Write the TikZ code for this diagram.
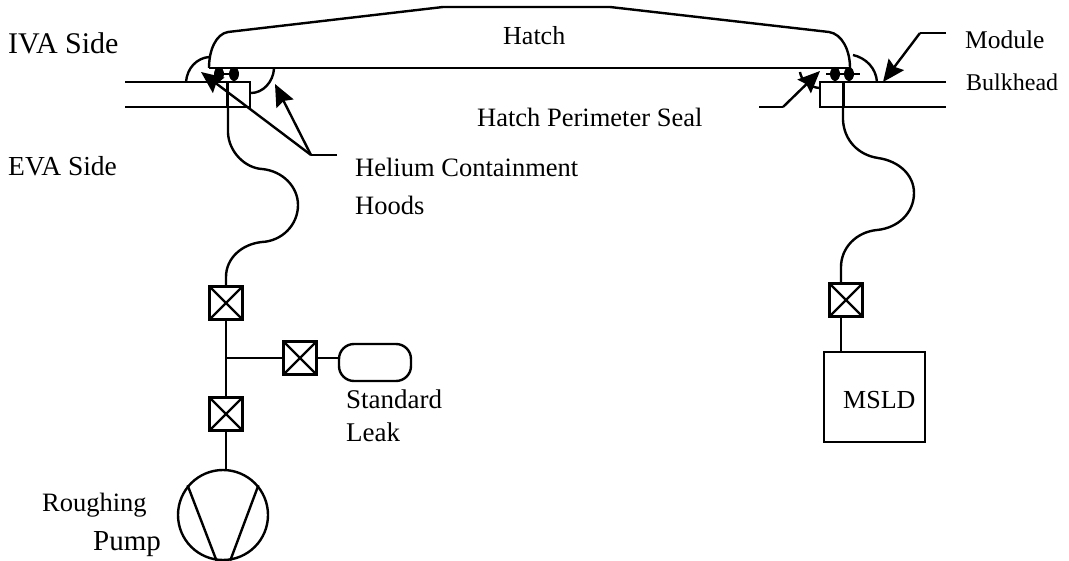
\documentclass[tikz,border=0pt]{standalone}
\usepackage{fontspec}
\setmainfont{Liberation Serif}
\usetikzlibrary{arrows.meta,shapes.geometric}
\tikzset{
    pipe/.style={line width=2.4pt},
    pointer/.style={line width=2.4pt,-{Stealth[length=22pt,width=19pt,inset=3pt]}},
    valve/.style={draw,line width=3pt,rectangle,minimum size=33pt,inner sep=0pt,
        path picture={\draw[line width=2.4pt] (path picture bounding box.north west) -- (path picture bounding box.south east)
            (path picture bounding box.north east) -- (path picture bounding box.south west);}},
    oring/.style={fill=black,ellipse,minimum width=10pt,minimum height=14pt,inner sep=0pt},
    label/.style={anchor=base west,inner sep=0pt,font=\fontsize{#1}{#1}\selectfont},
    label/.default=26.5
}
\begin{document}
\begin{tikzpicture}[x=1pt,y=-1pt]
    \useasboundingbox (0,0) rectangle (1069,561);

    % hatch
    \draw[pipe] (209,68) .. controls (209,50) and (216,34) .. (228,32) -- (443,7) -- (610,7) -- (829,32)
        .. controls (842,34) and (850,50) .. (850,68);
    \draw[pipe] (209,68) -- (850,68);

    % left bulkhead
    \draw[pipe] (125,82) -- (250,82) -- (250,107) -- (125,107);
    \draw[line width=3pt] (227.5,82) -- (227.5,107);

    % right bulkhead
    \draw[pipe] (946,82) -- (820,82) -- (820,107) -- (946,107);
    \draw[line width=3pt] (843,82) -- (843,107);

    % seals
    \node[oring] (sealA) at (219,74) {};
    \node[oring] (sealB) at (234,74) {};
    \node[oring] (sealC) at (835,74) {};
    \node[oring] (sealD) at (849,74) {};
    \draw[pipe] (sealA) -- (sealB);
    \draw[pipe] (826,74) -- (860,74);

    % containment hoods
    \draw[pipe] (186,82) .. controls (187,68) and (197,58) .. (209,57);
    \draw[pipe] (274,69) .. controls (273,82) and (263,93) .. (251,93);
    \draw[pipe] (853,55) .. controls (866,58) and (876,68) .. (877,82);
    \draw[pipe] (800,72) .. controls (801,80) and (809,87) .. (819,88);

    % valves, leak, pump, detector
    \node[valve] (valveA) at (226,303) {};
    \node[valve] (valveB) at (300,358) {};
    \node[valve] (valveC) at (226,414) {};
    \node[valve] (valveD) at (846,300) {};
    \node[draw,line width=2.4pt,rectangle,rounded corners=15pt,minimum width=72pt,minimum height=37pt,inner sep=0pt] (leak) at (375,362.5) {};
    \node[draw,line width=2.4pt,circle,minimum size=90pt,inner sep=0pt] (pump) at (223,515) {};
    \draw[pipe] (pump.140) -- (pump.262);
    \draw[pipe] (pump.40) -- (pump.279);
    \node[draw,line width=2.4pt,rectangle,minimum width=101pt,minimum height=90pt,inner sep=0pt] (msld) at (874.5,397) {};

    % left line
    \coordinate (tee) at (226,358);
    \draw[pipe] (228,107) -- (228,133) .. controls (229,152) and (245,168) .. (262,169)
        .. controls (283,171) and (298,187) .. (298,205)
        .. controls (298,225) and (282,241) .. (262,242)
        .. controls (242,244) and (226,258) .. (226,277) -- (valveA.north);
    \draw[pipe] (valveA.south) -- (valveC.north);
    \draw[pipe] (tee) -- (valveB.west);
    \draw[pipe] (valveB.east) -- (leak.west |- valveB.east);
    \draw[pipe] (valveC.south) -- (valveC.south |- pump.north);

    % right line
    \draw[pipe] (843,107) -- (843,120) .. controls (844,140) and (858,155) .. (878,158)
        .. controls (899,161) and (914,175) .. (914,193)
        .. controls (914,213) and (898,228) .. (877,230)
        .. controls (856,232) and (841,248) .. (841,267) -- (841,283);
    \draw[pipe] (841,317) -- (841,352);

    % pointers
    \coordinate (hoodsEnd) at (337,155);
    \coordinate (hoodsBend) at (311,155);
    \coordinate (moduleEnd) at (946,33);
    \coordinate (moduleBend) at (920,33);
    \coordinate (sealEnd) at (759,107);
    \coordinate (sealBend) at (783,107);
    \draw[pipe] (hoodsEnd) -- (hoodsBend);
    \draw[pointer] (hoodsBend) -- (201,72);
    \draw[pointer] (hoodsBend) -- (275,84);
    \draw[pipe] (moduleEnd) -- (moduleBend);
    \draw[pointer] (moduleBend) -- (883,82);
    \draw[pipe] (sealEnd) -- (sealBend);
    \draw[pointer] (sealBend) -- (820,71);

    % labels
    \node[label=30] (iva) at (8,54) {IVA Side};
    \node[label=27.5] (eva) at (8,176) {EVA Side};
    \node[label=26] (hatch) at (503,45) {Hatch};
    \node[label] (perimeter) at (477,127) {Hatch Perimeter Seal};
    \node[label] (helium) at (355,177) {Helium Containment};
    \node[label] (hoods) at (355,215) {Hoods};
    \node[label=25.5] (module) at (965,49) {Module};
    \node[label=24] (bulkhead) at (966,91) {Bulkhead};
    \node[label=27] (standard) at (346,409) {Standard};
    \node[label=27] (leaktext) at (346,442) {Leak};
    \node[label] (rough) at (42,511) {Roughing};
    \node[label=29] (pumptext) at (93,550) {Pump};
    \node[label=26] (msldtext) at (843,409) {MSLD};
\end{tikzpicture}
\end{document}
